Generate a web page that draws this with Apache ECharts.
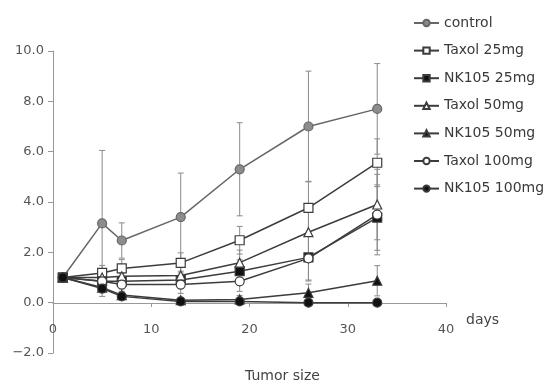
<!DOCTYPE html>
<html>
<head>
<meta charset="utf-8">
<script src="https://cdn.jsdelivr.net/npm/echarts@6/dist/echarts.min.js"></script>
<style>
  html, body { margin: 0; padding: 0; background: #fff; }
  #main { width: 550px; height: 386px; }
</style>
</head>
<body>
<div id="main"></div>
<script>
const days = [1, 5, 7, 13, 19, 26, 33];
const yTicks = [-2, 0, 2, 4, 6, 8, 10];

const control = [1.0, 3.15, 2.47, 3.4, 5.3, 7.0, 7.7];
const controlErr = [0, 2.9, 0.7, 1.75, 1.85, 2.2, 1.8];
const taxol25 = [1.0, 1.18, 1.36, 1.58, 2.48, 3.77, 5.56];
const taxol25Err = [0, 0.3, 0.35, 0.4, 0.55, 1.05, 0.95];
const nk25 = [1.0, 0.85, 0.85, 0.9, 1.25, 1.8, 3.38];
const nk25Err = [0, 0.25, 0.3, 0.35, 0.45, 0.9, 1.3];
const taxol50 = [1.0, 1.0, 1.05, 1.08, 1.59, 2.8, 3.9];
const taxol50Err = [0, 0.3, 0.3, 0.35, 0.5, 0.9, 1.4];
const nk50 = [1.0, 0.6, 0.3, 0.1, 0.13, 0.39, 0.87];
const nk50Err = [0, 0.2, 0.15, 0.1, 0.15, 0.35, 0.6];
const taxol100 = [1.0, 0.85, 0.72, 0.72, 0.85, 1.76, 3.5];
const taxol100Err = [0, 0.25, 0.3, 0.35, 0.4, 0.9, 1.6];
const nk100 = [1.0, 0.56, 0.25, 0.05, 0.05, 0.0, 0.0];
const nk100Err = [0, 0.15, 0.1, 0.05, 0.05, 0.05, 0.05];

const chart = echarts.init(document.getElementById('main'));
const font = 'DejaVu Sans, sans-serif';
const lineColor = '#3c3c3c';

function lineSeries(name, values, symbol, fill, border) {
  return {
    name: name,
    type: 'line',
    data: days.map((d, i) => [d, values[i]]),
    symbol: symbol,
    symbolSize: 9,
    lineStyle: { color: border || lineColor, width: 1.5 },
    itemStyle: { color: fill, borderColor: border || lineColor, borderWidth: 1.2 },
    z: 3
  };
}

function errSeries(values, errs) {
  return {
    type: 'custom',
    silent: true,
    z: 1,
    data: days.map((d, i) => [d, values[i] - errs[i], values[i] + errs[i]]),
    renderItem: function (params, api) {
      const lo = api.coord([api.value(0), api.value(1)]);
      const hi = api.coord([api.value(0), api.value(2)]);
      const w = 3;
      const style = { stroke: '#8a8a8a', lineWidth: 1 };
      return {
        type: 'group',
        children: [
          { type: 'line', shape: { x1: lo[0], y1: lo[1], x2: hi[0], y2: hi[1] }, style: style },
          { type: 'line', shape: { x1: hi[0] - w, y1: hi[1], x2: hi[0] + w, y2: hi[1] }, style: style },
          { type: 'line', shape: { x1: lo[0] - w, y1: lo[1], x2: lo[0] + w, y2: lo[1] }, style: style }
        ]
      };
    }
  };
}

const names = ['control', 'Taxol 25mg', 'NK105 25mg', 'Taxol 50mg', 'NK105 50mg', 'Taxol 100mg', 'NK105 100mg'];

const option = {
  backgroundColor: '#fff',
  animation: false,
  textStyle: { fontFamily: font },
  title: {
    text: 'Tumor size',
    left: 240,
    top: 364,
    textStyle: { fontSize: 14, fontWeight: 'normal', color: '#444', fontFamily: font }
  },
  legend: {
    data: names,
    orient: 'vertical',
    left: 408,
    top: 11,
    itemWidth: 25,
    itemHeight: 8,
    itemGap: 13.6,
    textStyle: { fontSize: 14, color: '#3a3a3a', fontFamily: font }
  },
  grid: { left: 53, right: 104, top: 51, bottom: 33 },
  xAxis: {
    type: 'value',
    min: 0,
    max: 40,
    interval: 10,
    offset: -50,
    name: 'days',
    nameLocation: 'end',
    nameGap: 20,
    nameTextStyle: { fontSize: 14, color: '#444', verticalAlign: 'top', padding: [10, 0, 0, 0] },
    axisLine: { onZero: false, lineStyle: { color: '#999', width: 1 } },
    axisTick: { show: true, inside: false, length: 4, lineStyle: { color: '#999' } },
    axisLabel: { fontSize: 13, color: '#555', margin: 20 },
    splitLine: { show: false }
  },
  yAxis: {
    type: 'value',
    min: -2,
    max: 10,
    interval: 2,
    axisLine: { show: true, lineStyle: { color: '#999', width: 1 } },
    axisTick: { show: true, length: 5, lineStyle: { color: '#999' } },
    axisLabel: {
      fontSize: 13,
      color: '#555',
      margin: 9,
      formatter: v => yTicks.indexOf(v) >= 0 ? v.toFixed(1).replace('-', '\u2212') : ''
    },
    splitLine: { show: false }
  },
  series: [
    errSeries(control, controlErr),
    errSeries(taxol25, taxol25Err),
    errSeries(nk25, nk25Err),
    errSeries(taxol50, taxol50Err),
    errSeries(nk50, nk50Err),
    errSeries(taxol100, taxol100Err),
    errSeries(nk100, nk100Err),
    lineSeries('control', control, 'circle', '#8c8c8c', '#666'),
    lineSeries('Taxol 25mg', taxol25, 'rect', '#fff'),
    lineSeries('NK105 25mg', nk25, 'rect', '#111'),
    lineSeries('Taxol 50mg', taxol50, 'triangle', '#fff'),
    lineSeries('NK105 50mg', nk50, 'triangle', '#111'),
    lineSeries('Taxol 100mg', taxol100, 'circle', '#fff'),
    lineSeries('NK105 100mg', nk100, 'circle', '#111')
  ]
};

chart.setOption(option);
</script>
</body>
</html>
